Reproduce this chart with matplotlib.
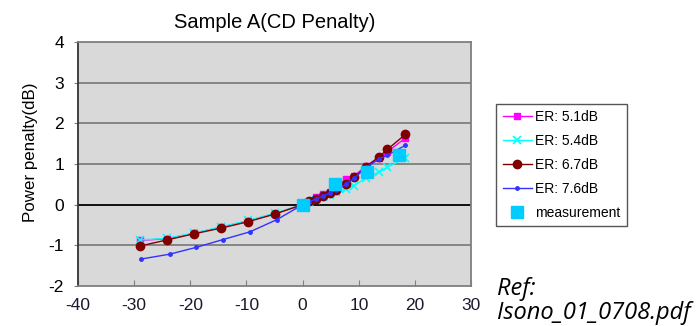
import matplotlib
matplotlib.use("Agg")
import matplotlib.pyplot as plt

# CD penalty vs dispersion, simulated for several extinction ratios
x_sim = [-29.0, -24.2, -19.4, -14.6, -9.7, -4.9, 0.0, 1.2, 2.4, 3.6, 4.8, 6.0, 7.7, 9.2, 11.3, 13.6, 15.1, 18.3]
er51 = [-0.88, -0.84, -0.71, -0.56, -0.40, -0.22, 0.0, 0.10, 0.18, 0.25, 0.32, 0.40, 0.64, 0.71, 0.96, 1.15, 1.30, 1.64]
er54 = [-0.87, -0.83, -0.70, -0.55, -0.39, -0.21, 0.0, 0.06, 0.12, 0.18, 0.24, 0.30, 0.39, 0.47, 0.66, 0.80, 0.92, 1.15]
er67 = [-1.02, -0.87, -0.72, -0.58, -0.42, -0.23, 0.0, 0.08, 0.15, 0.22, 0.29, 0.36, 0.51, 0.67, 0.93, 1.18, 1.36, 1.73]
x_76 = [-28.8, -23.7, -18.9, -14.2, -9.4, -4.6, 0.0, 1.2, 2.4, 3.6, 4.8, 6.0, 7.7, 9.2, 11.3, 13.6, 15.1, 18.3]
er76 = [-1.34, -1.22, -1.05, -0.86, -0.67, -0.37, 0.0, 0.07, 0.14, 0.21, 0.28, 0.36, 0.50, 0.65, 0.92, 1.12, 1.22, 1.46]

# measured points
x_meas = [0.0, 5.8, 11.4, 17.1]
y_meas = [0.0, 0.51, 0.80, 1.21]

xticks = [-40, -30, -20, -10, 0, 10, 20, 30]
yticks = [-2, -1, 0, 1, 2, 3, 4]

plt.rcParams['font.family'] = ['Liberation Sans', 'DejaVu Sans']
plt.rcParams['axes.unicode_minus'] = False

fig = plt.figure(figsize=(6.96, 3.26), dpi=100)
ax = fig.add_axes([0.112, 0.123, 0.565, 0.748])
ax.set_facecolor('#d9d9d9')

for yv in yticks[1:-1]:
    ax.axhline(yv, color='black' if yv == 0 else '#7f7f7f', lw=1.3, zorder=1)

ax.plot(x_sim, er51, '-s', color='#ff00ff', ms=5, lw=1, label='ER: 5.1dB', zorder=3)
ax.plot(x_sim, er54, '-x', color='#00ffff', ms=6, mew=1.2, lw=1, label='ER: 5.4dB', zorder=3)
ax.plot(x_sim, er67, '-o', color='#800000', ms=6, lw=1, label='ER: 6.7dB', zorder=3)
ax.plot(x_76, er76, '-o', color='#3333ff', ms=2.5, lw=1, label='ER: 7.6dB', zorder=3)
ax.plot(x_meas, y_meas, 's', color='#00ccff', ms=9, ls='none', label='measurement', zorder=4)

ax.set_xlim(-40, 30)
ax.set_ylim(-2, 4)
ax.set_xticks(xticks)
ax.set_yticks(yticks)
ax.tick_params(axis='x', direction='in', length=4, labelsize=12.5, pad=9, colors='#7f7f7f', labelcolor='#1a1a2e')
ax.tick_params(axis='y', direction='out', length=3, labelsize=12.5, pad=7, colors='#7f7f7f', labelcolor='black')

ax.spines['left'].set_color('#333333')
ax.spines['left'].set_linewidth(1.3)
for side in ['right', 'top', 'bottom']:
    ax.spines[side].set_color('#7f7f7f')
    ax.spines[side].set_linewidth(1.3)

ax.set_title('Sample A(CD Penalty)', fontsize=14.5, pad=10)
ax.set_ylabel('Power penalty(dB)', fontsize=12.2, va='center')
ax.yaxis.set_label_coords(-0.12, 0.549)

leg = ax.legend(loc='upper left', bbox_to_anchor=(1.064, 0.746), fontsize=10,
                frameon=True, fancybox=False, edgecolor='#555555', framealpha=1,
                facecolor='white', handlelength=2.1, handletextpad=0.25,
                borderpad=0.45, labelspacing=0.72, borderaxespad=0)
leg.get_frame().set_linewidth(1)

ref_font = dict(fontsize=17, style='italic', family=['Open Sans', 'DejaVu Sans'],
                ha='left', va='baseline')
fig.text(0.714, 0.095, 'Ref:', **ref_font)
fig.text(0.714, 0.0215, 'Isono_01_0708.pdf', **ref_font)

fig.savefig('out.png', dpi=100)
